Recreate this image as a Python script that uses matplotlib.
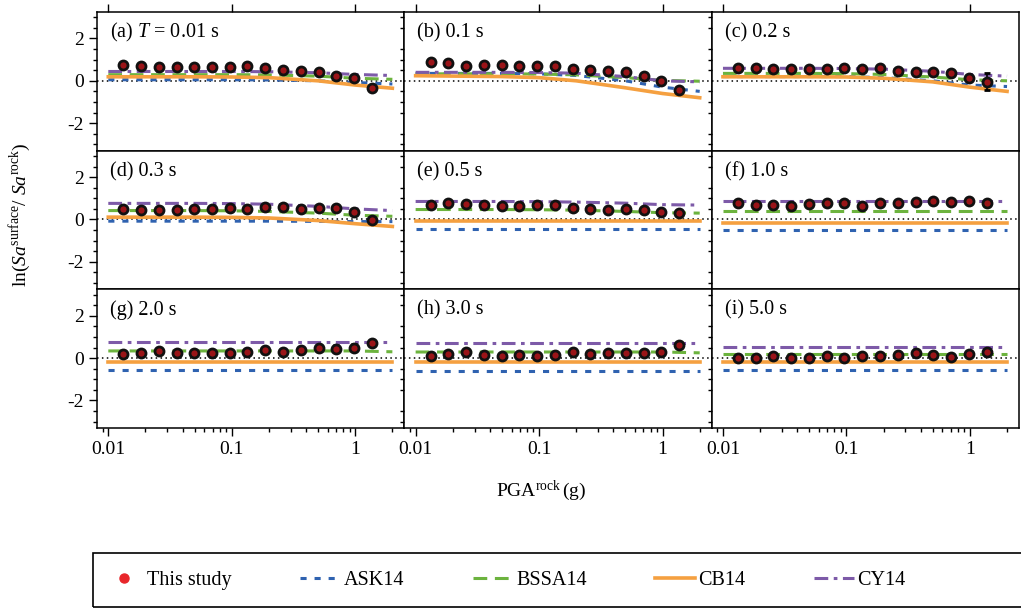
import numpy as np
import matplotlib.pyplot as plt
from matplotlib.lines import Line2D
from matplotlib.patches import Rectangle
from matplotlib.ticker import MultipleLocator, LogLocator, NullFormatter, FixedLocator, FixedFormatter

plt.rcParams['font.family'] = ['Liberation Serif', 'DejaVu Serif']
plt.rcParams['mathtext.fontset'] = 'custom'
plt.rcParams['mathtext.rm'] = 'Liberation Serif'
plt.rcParams['mathtext.it'] = 'Liberation Serif:italic'
plt.rcParams['axes.unicode_minus'] = False

# PGA bins of this study (g)
pga_bins = [0.0132, 0.0184, 0.0256, 0.0357, 0.0497, 0.0692, 0.0964, 0.134,
            0.187, 0.260, 0.363, 0.505, 0.704, 0.98, 1.37]
# PGA nodes where the GMM curves are read
pga_model = [0.01, 0.05, 0.1, 0.2, 0.5, 1.0, 2.0]

panel_titles = ['(a) $T$ = 0.01 s', '(b) 0.1 s', '(c) 0.2 s',
                '(d) 0.3 s', '(e) 0.5 s', '(f) 1.0 s',
                '(g) 2.0 s', '(h) 3.0 s', '(i) 5.0 s']

# ln(Sa_surface / Sa_rock) of this study, one row per period
study_mean = [
    [0.75, 0.71, 0.67, 0.67, 0.67, 0.63, 0.63, 0.68, 0.60, 0.52, 0.44, 0.40, 0.24, 0.13, -0.32],
    [0.87, 0.82, 0.71, 0.75, 0.75, 0.68, 0.68, 0.71, 0.56, 0.51, 0.48, 0.40, 0.24, -0.03, -0.44],
    [0.60, 0.59, 0.56, 0.56, 0.56, 0.56, 0.59, 0.56, 0.60, 0.44, 0.43, 0.40, 0.35, 0.13, -0.05],
    [0.50, 0.47, 0.47, 0.45, 0.50, 0.50, 0.53, 0.50, 0.57, 0.60, 0.50, 0.53, 0.53, 0.34, -0.01],
    [0.70, 0.76, 0.73, 0.68, 0.62, 0.62, 0.68, 0.70, 0.54, 0.50, 0.45, 0.50, 0.45, 0.37, 0.31],
    [0.76, 0.68, 0.70, 0.65, 0.73, 0.80, 0.76, 0.65, 0.80, 0.80, 0.84, 0.88, 0.84, 0.88, 0.80],
    [0.19, 0.23, 0.34, 0.26, 0.23, 0.26, 0.26, 0.31, 0.37, 0.29, 0.37, 0.47, 0.45, 0.50, 0.73],
    [0.11, 0.19, 0.27, 0.15, 0.11, 0.15, 0.11, 0.14, 0.29, 0.19, 0.23, 0.22, 0.23, 0.27, 0.60],
    [0.00, 0.03, 0.11, 0.03, 0.03, 0.08, 0.00, 0.08, 0.11, 0.14, 0.23, 0.14, 0.06, 0.19, 0.27],
]
study_err = [
    [0.05, 0.05, 0.05, 0.05, 0.05, 0.05, 0.05, 0.05, 0.05, 0.05, 0.05, 0.05, 0.06, 0.08, 0.08],
    [0.05, 0.05, 0.05, 0.05, 0.05, 0.05, 0.05, 0.05, 0.05, 0.05, 0.05, 0.05, 0.06, 0.10, 0.08],
    [0.05, 0.05, 0.05, 0.05, 0.05, 0.05, 0.05, 0.05, 0.05, 0.05, 0.05, 0.05, 0.08, 0.12, 0.40],
    [0.05, 0.05, 0.05, 0.05, 0.05, 0.05, 0.05, 0.05, 0.05, 0.05, 0.05, 0.15, 0.15, 0.15, 0.08],
    [0.05, 0.05, 0.05, 0.05, 0.05, 0.05, 0.05, 0.05, 0.05, 0.05, 0.05, 0.05, 0.06, 0.08, 0.08],
    [0.05, 0.05, 0.05, 0.05, 0.05, 0.05, 0.05, 0.05, 0.05, 0.05, 0.05, 0.06, 0.06, 0.08, 0.08],
    [0.05, 0.05, 0.10, 0.05, 0.05, 0.05, 0.05, 0.08, 0.10, 0.05, 0.08, 0.08, 0.15, 0.15, 0.08],
    [0.05, 0.08, 0.12, 0.08, 0.05, 0.08, 0.05, 0.08, 0.15, 0.05, 0.08, 0.08, 0.10, 0.10, 0.12],
    [0.05, 0.05, 0.12, 0.05, 0.05, 0.08, 0.05, 0.08, 0.08, 0.08, 0.12, 0.08, 0.08, 0.12, 0.15],
]

# GMM predictions at pga_model, one row per period
ask14 = [
    [0.05, 0.05, 0.05, 0.04, 0.00, -0.08, -0.15],
    [0.35, 0.35, 0.33, 0.25, 0.00, -0.30, -0.50],
    [0.20, 0.20, 0.20, 0.15, 0.00, -0.20, -0.27],
    [-0.08, -0.08, -0.08, -0.08, -0.09, -0.10, -0.10],
    [-0.43, -0.43, -0.43, -0.43, -0.43, -0.43, -0.43],
    [-0.51, -0.51, -0.51, -0.51, -0.51, -0.51, -0.51],
    [-0.56, -0.56, -0.56, -0.56, -0.56, -0.56, -0.56],
    [-0.59, -0.59, -0.59, -0.59, -0.59, -0.59, -0.59],
    [-0.56, -0.56, -0.56, -0.56, -0.56, -0.56, -0.56],
]
bssa14 = [
    [0.29, 0.29, 0.29, 0.28, 0.22, 0.12, 0.07],
    [0.33, 0.33, 0.32, 0.28, 0.15, 0.02, -0.02],
    [0.35, 0.35, 0.34, 0.30, 0.18, 0.05, 0.00],
    [0.42, 0.42, 0.41, 0.38, 0.30, 0.20, 0.15],
    [0.47, 0.47, 0.46, 0.44, 0.38, 0.32, 0.30],
    [0.39, 0.39, 0.39, 0.39, 0.39, 0.39, 0.39],
    [0.34, 0.34, 0.34, 0.34, 0.34, 0.34, 0.30],
    [0.29, 0.29, 0.29, 0.29, 0.29, 0.29, 0.25],
    [0.19, 0.19, 0.19, 0.19, 0.19, 0.19, 0.19],
]
cb14 = [
    [0.19, 0.19, 0.18, 0.15, 0.00, -0.20, -0.35],
    [0.24, 0.20, 0.15, 0.00, -0.33, -0.60, -0.80],
    [0.19, 0.19, 0.18, 0.12, -0.05, -0.30, -0.50],
    [0.11, 0.11, 0.10, 0.07, -0.05, -0.20, -0.33],
    [-0.05, -0.05, -0.05, -0.05, -0.05, -0.05, -0.05],
    [-0.17, -0.17, -0.17, -0.17, -0.17, -0.17, -0.17],
    [-0.17, -0.17, -0.17, -0.17, -0.17, -0.17, -0.17],
    [-0.17, -0.17, -0.17, -0.17, -0.17, -0.17, -0.17],
    [-0.17, -0.17, -0.17, -0.17, -0.17, -0.17, -0.17],
]
cy14 = [
    [0.44, 0.44, 0.44, 0.43, 0.38, 0.30, 0.25],
    [0.40, 0.40, 0.39, 0.36, 0.20, 0.00, -0.05],
    [0.59, 0.59, 0.58, 0.55, 0.45, 0.30, 0.22],
    [0.76, 0.76, 0.75, 0.72, 0.62, 0.50, 0.42],
    [0.85, 0.85, 0.84, 0.82, 0.77, 0.70, 0.68],
    [0.85, 0.85, 0.85, 0.85, 0.85, 0.85, 0.85],
    [0.78, 0.78, 0.78, 0.78, 0.78, 0.78, 0.78],
    [0.70, 0.70, 0.70, 0.70, 0.70, 0.70, 0.70],
    [0.54, 0.54, 0.54, 0.54, 0.54, 0.54, 0.54],
]

ask_style = dict(color='#2f62b0', lw=2.2, ls=(0, (2, 2.6)))
bssa_style = dict(color='#6cb33e', lw=2.2, ls=(0, (4.5, 2.5)))
cb_style = dict(color='#f5a040', lw=2.6, ls='-')
cy_style = dict(color='#7d5aa8', lw=2.2, ls=(0, (4.5, 1.8, 1.2, 1.8)))

fig, axes = plt.subplots(3, 3, figsize=(10.21, 6.14), dpi=100, sharex=True, sharey=True)
fig.subplots_adjust(left=97 / 1021, right=1019 / 1021, top=1 - 12 / 614,
                    bottom=1 - 428 / 614, wspace=0, hspace=0)

for k, ax in enumerate(axes.flat):
    row, col = divmod(k, 3)
    # zero reference line
    ax.axhline(0, color='black', lw=1.1, ls=(0, (1, 2.2)), zorder=1)
    # GMM curves
    ax.plot(pga_model, ask14[k], **ask_style, zorder=2)
    ax.plot(pga_model, bssa14[k], **bssa_style, zorder=2)
    ax.plot(pga_model, cb14[k], **cb_style, zorder=2)
    ax.plot(pga_model, cy14[k], **cy_style, zorder=2)
    # this study
    ax.errorbar(pga_bins, study_mean[k], yerr=study_err[k], fmt='o', ms=6.5,
                mfc='#9a1418', mec='#111111', mew=2.0, ecolor='black',
                elinewidth=1.2, capsize=2, zorder=4)
    ax.text(0.042, 0.85, panel_titles[k], transform=ax.transAxes,
            fontsize=14.5, va='center', ha='left')

    ax.set_xscale('log')
    ax.set_xlim(0.0081, 2.5)
    ax.set_ylim(-3.3, 3.25)
    for sp in ax.spines.values():
        sp.set_linewidth(1.1)

    ax.yaxis.set_major_locator(FixedLocator([-2, 0, 2]))
    ax.yaxis.set_minor_locator(MultipleLocator(0.5))
    ax.xaxis.set_major_locator(FixedLocator([0.01, 0.1, 1]))
    ax.xaxis.set_major_formatter(FixedFormatter(['0.01', '0.1', '1']))
    ax.xaxis.set_minor_locator(LogLocator(base=10, subs=np.arange(2, 10)))
    ax.xaxis.set_minor_formatter(NullFormatter())

    ax.tick_params(axis='both', which='both', direction='out', width=1.0,
                   labelsize=14)
    ax.tick_params(which='major', length=6)
    ax.tick_params(which='minor', length=3)
    ax.tick_params(axis='y', left=(col == 0), right=False, labelleft=(col == 0))
    ax.tick_params(axis='x', top=(row == 0), bottom=(row == 2),
                   labeltop=False, labelbottom=(row == 2))

fig.text(20 / 1021, 1 - 215 / 614,
         r'ln($\mathit{Sa}^{\mathrm{surface}}$/ $\mathit{Sa}^{\mathrm{rock}}$)',
         rotation=90, ha='center', va='center', fontsize=14)
fig.text(541 / 1021, 1 - 491 / 614, r'PGA$^{\mathrm{rock}}$$\,$(g)',
         ha='center', va='center', fontsize=14)

# legend box, open past the right edge like the original
fig.patches.append(Rectangle((93 / 1021, 1 - 607 / 614), 960 / 1021, 54 / 614,
                             transform=fig.transFigure, fill=False,
                             edgecolor='black', lw=1.2))

handles = [
    Line2D([], [], ls='none', marker='o', ms=6.5, mfc='#e8262a', mec='#e8262a'),
    Line2D([], [], **ask_style),
    Line2D([], [], **bssa_style),
    Line2D([], [], **cb_style),
    Line2D([], [], **cy_style),
]
labels = ['This study', 'ASK14', 'BSSA14', 'CB14', 'CY14']
leg = fig.legend(handles, labels, loc='center left', ncol=5,
                 bbox_to_anchor=(104 / 1021, 1 - 580 / 614),
                 frameon=False, fontsize=14.5, handlelength=2.0,
                 handletextpad=0.15, columnspacing=3.4, borderpad=0,
                 borderaxespad=0)

plt.savefig('out.png', dpi=100)
